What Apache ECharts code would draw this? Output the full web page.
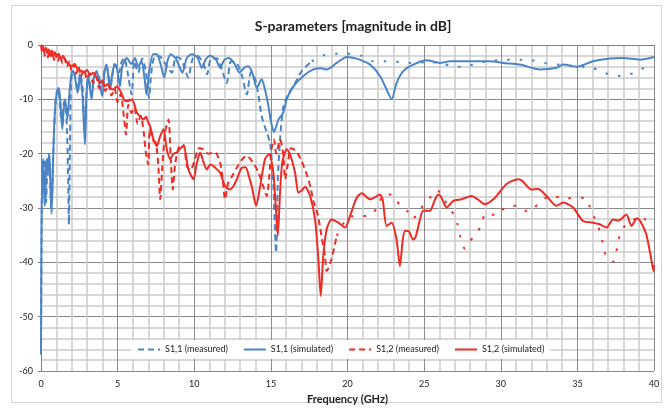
<!DOCTYPE html>
<html>
<head>
<meta charset="utf-8">
<script src="https://cdn.jsdelivr.net/npm/echarts@6/dist/echarts.min.js"></script>
<style>
  html, body { margin: 0; padding: 0; background: #fff; }
  #main { width: 670px; height: 410px; }
</style>
</head>
<body>
<div id="main"></div>
<script>
// [frequency GHz, dB]
const s11Measured = [
  [0,-55],[0.05,-30],[0.1,-22],[0.18,-26],[0.25,-21],[0.33,-29],[0.42,-22],[0.5,-20],[0.6,-25],[0.68,-31],
  [0.8,-20],[0.9,-13],[1.0,-9],[1.12,-8],[1.25,-12],[1.38,-14.5],[1.5,-10.5],[1.6,-11],[1.7,-16],[1.78,-26],
  [1.82,-33],[1.88,-20],[1.95,-8],[2.05,-5],[2.2,-5.5],[2.4,-8.5],[2.55,-5.2],[2.72,-8],[2.85,-16],[2.95,-10],
  [3.1,-5.5],[3.3,-9],[3.5,-5.5],[3.7,-5],[3.95,-8.5],[4.2,-4],[4.35,-4.5],[4.55,-7.5],[4.8,-3.5],[5.1,-5],
  [5.25,-3.2],[5.43,-2.4],[5.65,-5],[5.91,-9.1],[6.1,-3],[6.34,-5.1],[6.6,-2.5],[6.85,-5],[7.05,-9.8],[7.2,-5],
  [7.45,-2],[7.76,-2.1],[8.0,-3],[8.25,-4],[8.54,-5.1],[8.8,-2.2],[9.1,-2.5],[9.35,-4],[9.6,-6],[9.9,-2.5],
  [10.2,-2],[10.6,-3.5],[10.84,-5.4],[11.1,-2.5],[11.5,-2.5],[11.8,-4.5],[12.12,-7],[12.4,-3],[12.8,-3.5],[13.1,-5.5],
  [13.43,-9.1],[13.7,-5],[14.0,-6.5],[14.2,-9.5],[14.4,-13.1],[14.73,-16.1],[14.95,-18],[15.15,-25],[15.34,-38.2],[15.45,-25],
  [15.6,-17.4],[15.82,-11.2],[16.14,-9.1],[16.58,-7],[17.01,-4.8],[17.67,-3]
];
const s11MeasuredHigh = [
  [17.67,-3],[18.43,-1.9],[19.19,-1.6],[20.06,-1.6],[20.94,-2],[21.68,-3],[22.5,-3],[23.38,-3.1],[24.18,-3.3],[25.31,-3.2],
  [26.14,-3.3],[26.94,-4],[27.77,-3.9],[28.64,-3.2],[29.5,-2.9],[30.33,-2.7],[31.18,-2.7],[32.01,-2.8],[32.81,-3.3],[34.11,-3.7],
  [35.98,-4.2],[36.85,-5.2],[37.83,-5.7],[38.79,-5],[39.65,-3.7]
];
const s11Simulated = [
  [0,-57],[0.03,-35],[0.08,-24],[0.15,-21],[0.2,-27],[0.25,-29.6],[0.32,-23],[0.38,-21],[0.45,-24],[0.52,-20],
  [0.58,-22],[0.64,-28],[0.7,-30.2],[0.78,-22],[0.86,-15],[0.97,-10],[1.1,-8.2],[1.17,-7.9],[1.28,-11],[1.39,-15.5],
  [1.48,-12],[1.56,-10],[1.65,-11.5],[1.73,-13.6],[1.85,-9],[2.0,-5.1],[2.11,-4.8],[2.25,-6.5],[2.39,-8.8],[2.54,-5.7],
  [2.7,-9],[2.87,-18.3],[2.97,-9],[3.08,-5.7],[3.3,-10],[3.45,-6],[3.63,-4.8],[3.8,-7],[4.0,-9.4],[4.15,-5],
  [4.28,-3.6],[4.4,-6],[4.5,-8.2],[4.7,-4.5],[4.87,-3.6],[5.0,-5],[5.15,-7.6],[5.3,-4],[5.6,-2.4],[5.9,-3.5],
  [6.13,-2.4],[6.34,-4],[6.56,-3],[6.75,-6],[6.89,-9.1],[7.05,-5],[7.32,-1.7],[7.56,-1.7],[7.8,-3.5],[8.04,-6],
  [8.25,-3],[8.47,-1.7],[8.8,-2.5],[9.0,-3.8],[9.23,-5.1],[9.5,-2.5],[9.84,-1.7],[10.2,-2.3],[10.5,-4.2],[10.75,-2.6],
  [11.04,-2],[11.4,-2.6],[11.69,-4.2],[11.95,-2.8],[12.23,-2.4],[12.6,-3.3],[12.95,-5.1],[13.25,-4.2],[13.53,-3.9],[13.8,-5.2],
  [14.08,-7.9],[14.4,-6.3],[14.6,-8],[14.84,-11.2],[15.0,-14],[15.2,-16],[15.5,-13.7],[15.8,-12.5],[16.04,-9.9],[16.47,-7.6],
  [17.12,-5.7],[17.77,-4.5],[18.3,-4.3],[18.64,-4.5],[19.3,-3.3],[19.95,-2.2],[20.4,-2.4],[20.8,-2.7],[21.47,-3.6],[22.12,-5.7],
  [22.55,-8.2],[22.88,-10],[23.2,-7],[23.64,-4.8],[24.29,-3.6],[25.16,-2.8],[26.03,-3.3],[26.68,-3],[27.99,-3],[29.29,-3],
  [30.16,-3.3],[31.25,-3.6],[32.55,-4.5],[33.64,-4.2],[34.07,-3.6],[34.94,-4],[36.02,-3],[37.11,-2.5],[37.98,-2.4],[39.07,-2.7],
  [40,-2.2]
];
const s12Measured = [
  [0,0],[0.08,-1.5],[0.15,-0.3],[0.25,-2],[0.35,-0.6],[0.45,-2.3],[0.55,-0.9],[0.65,-2.5],[0.75,-1.2],[0.85,-2.8],
  [0.95,-1.5],[1.1,-3],[1.25,-1.8],[1.4,-3.4],[1.55,-2.5],[1.7,-4],[1.85,-3],[2.0,-4.8],[2.15,-3.6],[2.3,-5.3],
  [2.45,-4],[2.6,-5.8],[2.8,-4.5],[3.0,-6.2],[3.2,-5.2],[3.4,-7],[3.6,-5.8],[3.8,-8],[4.0,-6.6],[4.2,-8.5],
  [4.4,-7.2],[4.6,-9.3],[4.8,-8],[5.0,-10.5],[5.2,-9],[5.4,-13],[5.55,-16.5],[5.7,-11],[5.9,-12.5],[6.1,-11.5],
  [6.3,-14.5],[6.5,-13],[6.7,-16],[6.85,-20],[7.0,-22],[7.1,-15.5],[7.3,-17.5],[7.5,-18],[7.65,-22],[7.78,-28.4],
  [7.9,-23],[8.1,-16],[8.32,-13.7],[8.45,-20],[8.6,-26.6],[8.75,-22],[9.0,-18.8],[9.3,-18.4],[9.52,-22.3],[9.75,-23],
  [10.0,-21.5],[10.3,-19],[10.6,-19.2],[10.9,-20],[11.36,-19.8],[11.69,-21.7],[11.85,-24.5],[12.01,-28.4],[12.2,-25.5],[12.5,-24],
  [12.9,-22],[13.2,-20.8],[13.43,-20.4],[13.8,-21.5],[14.2,-23.5],[14.5,-26],[14.73,-27.8],[14.9,-24],[15.05,-19],[15.21,-17.4],
  [15.35,-20],[15.6,-17.4],[15.8,-20],[15.93,-24.7],[16.1,-22],[16.3,-19],[16.64,-19.5],[17.01,-21.4],[17.34,-23.8],[17.6,-26.3],
  [17.77,-28.7],[18.06,-31.2],[18.21,-33.6],[18.38,-36.4],[18.53,-38.8],[18.64,-41.6],[18.9,-40],[19.3,-35.1]
];
const s12MeasuredHigh = [
  [19.3,-35.1],[19.7,-33],[20.16,-31.5],[20.77,-31.5],[21.47,-31.4],[22.01,-29.6],[22.34,-27.5],[22.88,-27.5],[23.42,-29.5],[24.03,-30.9],
  [24.25,-32],[24.8,-30],[25.38,-28.1],[25.86,-26.7],[26.29,-28.4],[26.79,-30.5],[27.16,-32.8],[27.33,-35],[27.66,-37.5],[27.92,-36.5],
  [28.2,-35.3],[28.68,-33.5],[29.03,-31],[29.73,-31.3],[30.38,-29.7],[31.07,-29.6],[31.79,-30.7],[32.44,-29.3],[33.25,-27.7],[34.11,-28.2],
  [35.48,-28.1],[35.92,-30.7],[36.35,-33.3],[36.64,-36.2],[36.9,-39.1],[37.33,-39.9],[37.62,-37],[37.88,-34],[38.5,-32.5],[39.16,-31.5],
  [39.79,-33.7]
];
const s12Simulated = [
  [0,0],[0.1,-0.3],[0.2,-1.2],[0.3,-0.5],[0.4,-1.5],[0.5,-0.8],[0.6,-1.8],[0.7,-1.0],[0.8,-2.0],[0.9,-1.3],
  [1.0,-2.2],[1.15,-1.6],[1.3,-2.6],[1.45,-2.0],[1.56,-2.7],[1.75,-3.3],[2.0,-3.9],[2.2,-3.5],[2.4,-4.5],[2.65,-4.8],
  [2.78,-5.1],[3.0,-4.6],[3.2,-5.5],[3.43,-5.1],[3.65,-6.2],[3.87,-7],[4.0,-6.5],[4.17,-7.6],[4.35,-7.2],[4.52,-7.9],
  [4.71,-8.2],[4.95,-7.6],[5.2,-8.6],[5.5,-10.3],[5.69,-10.3],[5.93,-10],[6.1,-11],[6.26,-12.5],[6.45,-13.1],[6.69,-13.7],
  [6.85,-13.2],[7.0,-14.3],[7.12,-14.9],[7.34,-17.4],[7.56,-18.6],[7.75,-17],[7.99,-15.5],[8.21,-19.2],[8.43,-21],[8.65,-20],
  [8.87,-19.8],[9.1,-19],[9.3,-18.6],[9.62,-22.9],[9.95,-24.7],[10.15,-22],[10.38,-19.8],[10.6,-21.5],[10.82,-22.9],[11.05,-22],
  [11.25,-22.3],[11.45,-22.8],[11.69,-23.5],[12.01,-26],[12.34,-26.6],[12.55,-26],[12.78,-24.7],[13.1,-22.6],[13.35,-22.5],[13.55,-24],
  [13.75,-26],[14.04,-29.6],[14.3,-26],[14.62,-21],[14.88,-20.1],[15.16,-23.5],[15.3,-29],[15.45,-35.1],[15.6,-27],[15.75,-21.5],
  [16.04,-19.2],[16.25,-20.1],[16.58,-23.5],[16.79,-27.2],[17.0,-26.8],[17.23,-26.1],[17.56,-27.8],[17.88,-32.1],[18.1,-39.4],[18.25,-46.2],
  [18.42,-38.8],[18.64,-33.9],[18.97,-32.1],[19.4,-32.7],[19.84,-33.6],[20.16,-31.5],[20.6,-28.1],[20.93,-27.3],[21.47,-28.4],[21.8,-28],
  [22.12,-27.5],[22.3,-28.5],[22.55,-33.3],[22.88,-32.7],[23.2,-35.8],[23.42,-40.7],[23.6,-36],[23.75,-34.2],[24.0,-34.3],[24.29,-35.8],
  [24.45,-35.3],[24.73,-32.1],[24.94,-30.5],[25.38,-30.5],[25.7,-28.5],[25.92,-27.5],[26.1,-27.9],[26.47,-29.9],[26.9,-28.7],[27.44,-28.4],
  [28.1,-27.8],[28.5,-28.4],[28.96,-29.3],[29.62,-28.1],[30.38,-25.6],[31.13,-24.7],[31.4,-25],[32.01,-26.6],[32.44,-26.5],[32.99,-27.8],
  [33.64,-29.6],[34.07,-29],[34.72,-29.9],[35.37,-32.4],[36.02,-32.7],[36.46,-33],[36.9,-33.6],[37.33,-32.1],[37.7,-32.3],[38.2,-31.2],
  [38.53,-33.3],[38.89,-31.9],[39.1,-32.4],[39.49,-34.8],[39.82,-39.4],[39.97,-41.6],[40,-40.5]
];
const seriesNames = ['S1,1 (measured)', 'S1,1 (simulated)', 'S1,2 (measured)', 'S1,2 (simulated)'];

const blue = '#4a84c6';
const red = '#ee2b25';
const font = 'Lato, "Open Sans", sans-serif';

function lineSeries(name, data, color, dash) {
  return {
    name: name,
    type: 'line',
    data: data,
    symbol: 'none',
    smooth: 0.25,
    animation: false,
    lineStyle: { color: color, width: 2, type: dash || 'solid' },
    itemStyle: { color: color }
  };
}

const chart = echarts.init(document.getElementById('main'));
chart.setOption({
  backgroundColor: '#fff',
  title: {
    text: 'S-parameters [magnitude in dB]',
    left: 348,
    top: 14,
    textAlign: 'center',
    textStyle: { fontFamily: font, fontSize: 14, fontWeight: 'bold', color: '#222' }
  },
  graphic: [{
    type: 'rect',
    shape: { x: 11.5, y: 5.5, width: 650, height: 397 },
    style: { fill: 'none', stroke: '#d6d6d6', lineWidth: 1 },
    silent: true
  }],
  grid: { left: 41, right: 16, top: 45, bottom: 39 },
  legend: {
    data: seriesNames,
    left: 131,
    top: 340,
    itemWidth: 22,
    itemHeight: 10,
    itemGap: 15,
    padding: [5, 6],
    backgroundColor: '#fff',
    itemStyle: { opacity: 0 },
    textStyle: { fontFamily: font, fontSize: 9, color: '#222' }
  },
  xAxis: {
    type: 'value',
    min: 0, max: 40, interval: 5,
    name: 'Frequency (GHz)',
    nameLocation: 'middle',
    nameGap: 23,
    nameTextStyle: { fontFamily: font, fontSize: 11, fontWeight: 'bold', color: '#222' },
    axisLine: { show: true, lineStyle: { color: '#808080', width: 1 } },
    axisTick: { show: false },
    axisLabel: { fontFamily: font, fontSize: 9, color: '#222', margin: 9 },
    splitLine: { show: true, lineStyle: { color: '#8a8a8a', width: 1 } },
    minorTick: { show: false, splitNumber: 5 },
    minorSplitLine: { show: true, lineStyle: { color: '#cbcbcb', width: 1.5 } }
  },
  yAxis: {
    type: 'value',
    min: -60, max: 0, interval: 10,
    axisLine: { show: true, lineStyle: { color: '#808080', width: 1 } },
    axisTick: { show: true, length: 3, lineStyle: { color: '#808080' } },
    axisLabel: { fontFamily: font, fontSize: 9, color: '#222', margin: 8 },
    splitLine: { show: true, lineStyle: { color: '#8a8a8a', width: 1 } },
    minorTick: { show: false, splitNumber: 5 },
    minorSplitLine: { show: true, lineStyle: { color: '#cbcbcb', width: 1.5 } }
  },
  series: [
    lineSeries(seriesNames[0], s11Measured, blue, [6, 4]),
    lineSeries(seriesNames[1], s11Simulated, blue),
    lineSeries(seriesNames[2], s12Measured, red, [6, 4]),
    lineSeries(seriesNames[3], s12Simulated, red),
    lineSeries(seriesNames[0], s11MeasuredHigh, blue, [2.5, 10]),
    lineSeries(seriesNames[2], s12MeasuredHigh, red, [2.5, 10])
  ]
});
</script>
</body>
</html>
